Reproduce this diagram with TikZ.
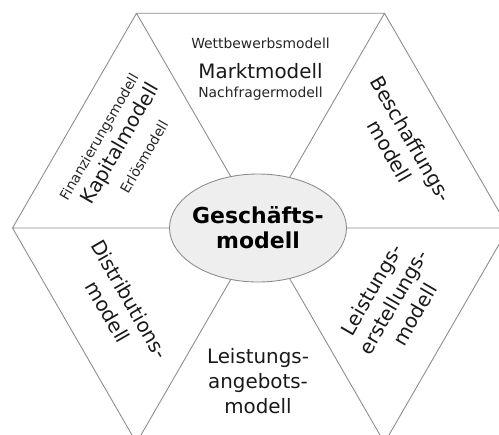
\documentclass[tikz,border=0pt]{standalone}
\usepackage{fontspec}
\setmainfont{DejaVu Sans}
\definecolor{rim}{RGB}{140,140,140}
\definecolor{gmfill}{RGB}{238,238,238}

\begin{document}
\begin{tikzpicture}[line width=0.5pt,
 big/.style={font=\fontsize{11.3}{14.2}\selectfont,align=center,text=black!90},
 small/.style={font=\fontsize{7.9}{9}\selectfont,text=black!85}]
\useasboundingbox(-5.21,-4.12)rectangle(4.77,4.56);
\clip(-5.21,-4.12)rectangle(4.77,4.56);
\coordinate(O)at(0,0);
\coordinate(G)at(-0.05,0);
\foreach \a/\n in {0/A,60/B,120/C,180/D,240/E,300/F}{\coordinate(\n)at(\a:4.96);}
\draw[rim](A)--(B)--(C)--(D)--(E)--(F)--cycle
(O)--(A)(O)--(B)(O)--(C)(O)--(D)(O)--(E)(O)--(F);
\filldraw[draw=rim,fill=gmfill](G)ellipse[x radius=1.77,y radius=1.08];
\node[font=\bfseries\fontsize{12.5}{14.2}\selectfont,align=center](gm)at(G){Geschäfts-\\modell};
\node[small,anchor=base](wb)at(0,3.6){Wettbewerbsmodell};
\node[big,anchor=base](mm)at(0,3.0){Marktmodell};
\node[small,anchor=base](nf)at(0,2.62){Nachfragermodell};
\node[small,rotate=60](fm)at(-3.21,1.81){Finanzierungsmodell};
\node[big,rotate=60](km)at(-2.79,1.68){Kapitalmodell};
\node[small,rotate=60](em)at(-2.33,1.42){Erlösmodell};
\node[big,rotate=-60](bm)at(2.8,1.66){Beschaffungs-\\modell};
\node[big,rotate=-60](dm)at(-2.83,-1.55){Distributions-\\modell};
\node[big,rotate=60](lem)at(2.65,-1.48){Leistungs-\\erstellungs-\\modell};
\node[big](lam)at(-0.05,-3.07){Leistungs-\\angebots-\\modell};
\end{tikzpicture}
\end{document}
